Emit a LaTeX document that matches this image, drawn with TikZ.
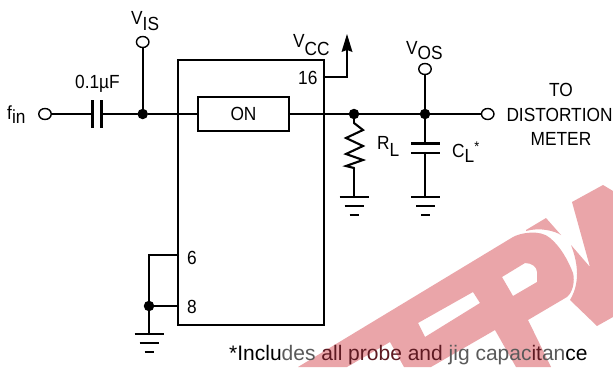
\documentclass[tikz,border=0pt]{standalone}
\usepackage{fontspec}
\setmainfont[FakeStretch=0.91]{Liberation Sans}
\newfontfamily\footfont{Liberation Sans}
\definecolor{wm}{HTML}{EAA5A9}
\definecolor{txtgray}{HTML}{5A5A5A}
\definecolor{txtred}{HTML}{5E1A22}
\newcommand{\lowered}[2]{\raisebox{-#1pt}{#2}}
\tikzset{
  wire/.style={line width=2.1pt,line cap=round,line join=miter,black},
  terminal/.style={ellipse,draw=black,line width=1.4pt,fill=white,minimum width=12.5pt,minimum height=11pt,inner sep=0pt},
  junction/.style={circle,fill=black,minimum size=10.5pt,inner sep=0pt},
  chipbox/.style={draw=black,line width=2.1pt,fill=white,inner sep=0pt},
  label/.style={anchor=base west,inner sep=0pt,font=\fontsize{19pt}{22pt}\selectfont},
  cl/.style={anchor=base,inner sep=0pt,font=\fontsize{19pt}{22pt}\selectfont},
  footlabel/.style={anchor=base west,inner sep=0pt,font=\footfont\fontsize{21pt}{23pt}\selectfont}
}
\usetikzlibrary{shapes.geometric,arrows.meta}
\newcommand{\groundsym}[2]{%
  \draw[wire,line cap=butt] (#1-14.5,#2) -- (#1+14.5,#2);
  \draw[wire,line cap=butt] (#1-9.5,#2+9) -- (#1+9.5,#2+9);
  \draw[wire,line cap=butt] (#1-4.5,#2+17.7) -- (#1+4.5,#2+17.7);
}
\begin{document}
\begin{tikzpicture}[x=1pt,y=-1pt]
\useasboundingbox (0,0) rectangle (613,367);
\fill[white] (0,0) rectangle (613,367);
% watermark
\fill[wm,even odd rule] (298,367) -- (513,237) .. controls (520,233) and (540,229) .. (550,238)
  .. controls (560,246) and (568,260) .. (573,273) .. controls (575,281) and (573,292) .. (567,297)
  -- (528,320) -- (551,367) -- (516,367) -- (495,330) -- (431,367) -- (404,367) -- (390,342) -- (347,367) -- cycle
  (418,323) -- (473,292) -- (480,303) -- (425,337) -- cycle
  (502,277) -- (525,263) .. controls (532,263) and (537,267) .. (537,272) -- (537,282) -- (513,296) -- cycle;
\fill[wm] (526,230) -- (546,218) -- (561,235) .. controls (555,231) and (540,227) .. (526,231) -- cycle;
\fill[wm] (572,202) -- (590,267) -- (571,245) .. controls (576,258) and (582,280) .. (570,300) -- (597,326) -- (613,317) -- (613,191) -- (603,185) -- cycle;

% IC
\node[chipbox,minimum width=146pt,minimum height=265pt] (ic) at (251,192.5) {};
% named points
\node[terminal] (fin) at (45,114) {};
\node[terminal] (vis) at (142.7,42) {};
\node[terminal] (vos) at (425,69) {};
\node[terminal] (out) at (487.7,114) {};
\node[junction] (j1) at (142.7,114) {};
\node[junction] (j2) at (354,114) {};
\node[junction] (j3) at (425,114) {};
\node[junction] (j4) at (149,306) {};
\coordinate (c1a) at (92.5,114);
\coordinate (c1b) at (101.5,114);
\coordinate (p16) at (324,77);
\coordinate (cor) at (347,77);
\coordinate (tip) at (347,45);
\coordinate (c2a) at (425,143.5);
\coordinate (c2b) at (425,153);
\coordinate (g1) at (354,197);
\coordinate (g2) at (425,197);
\coordinate (g3) at (149,334);
\coordinate (p6) at (178,255);
\coordinate (p8) at (178,306);
\coordinate (c6) at (149,255);
\coordinate (rtop) at (354,123);
\coordinate (rbot) at (354,168);

% wires
\draw[wire] (fin) -- (c1a);
\draw[wire] (c1b) -- (j1);
\draw[wire] (vis) -- (j1);
\draw[wire] (j1) -- (j2);
\draw[wire] (j2) -- (j3);
\draw[wire] (j3) -- (out);
\draw[wire] (vos) -- (j3);
\draw[wire] (j3) -- (c2a);
\draw[wire] (c2b) -- (g2);
\draw[wire] (j2) -- (rtop);
\draw[wire,line join=miter] (rtop) -- (363,130) -- (346,138) -- (363,146) -- (346,154) -- (363,160) -- (346,166) -- (rbot);
\draw[wire] (rbot) -- (g1);
\draw[wire] (p16) -- (cor) -- (tip);
\fill[black] (347,34) -- (352.5,52) -- (347,50) -- (341.5,52) -- cycle;
\draw[wire] (p6) -- (c6) -- (j4);
\draw[wire] (p8) -- (j4);
\draw[wire] (j4) -- (g3);

% capacitors
\draw[wire,line cap=butt] (92.5,100) -- (92.5,128);
\draw[wire,line cap=butt] (101.5,100) -- (101.5,128);
\draw[wire,line cap=butt] (411,143.5) -- (439.5,143.5);
\draw[wire,line cap=butt] (411,153) -- (439.5,153);

% grounds
\groundsym{354}{197}
\groundsym{425.5}{197}
\groundsym{149}{334}

% ON switch
\node[chipbox,minimum width=91pt,minimum height=34pt,font=\fontsize{19pt}{22pt}\selectfont] (on) at (243.5,114) {ON};

% labels
\node[label] (lvis) at (131,24) {V\lowered{6}{IS}};
\node[label] (lvcc) at (293,47) {V\lowered{8}{CC}};
\node[label] (lvos) at (406,54) {V\lowered{5}{OS}};
\node[label] (lfin) at (7,119) {f\lowered{4}{in}};
\node[label] (lcap) at (75,88) {0.1µF};
\node[label] (lrl) at (377,149) {R\lowered{7}{L}};
\node[label] (lcl) at (452,157) {C\lowered{5}{L}\raisebox{6pt}{\fontsize{14pt}{14pt}\selectfont *}};
\node[label] (l16) at (298,84) {16};
\node[label] (l6) at (187,264) {6};
\node[label] (l8) at (187,313) {8};
\node[cl] (to1) at (561,96) {TO};
\node[cl] (to2) at (559.5,121) {DISTORTION};
\node[cl] (to3) at (561,145) {METER};
\node[footlabel] (foot) at (229,360) {*Inclu\textcolor{txtgray}{des} \textcolor{txtred}{all probe and} \textcolor{txtgray}{jig capac}\textcolor{txtred}{it}\textcolor{txtgray}{an}ce};
\end{tikzpicture}
\end{document}
